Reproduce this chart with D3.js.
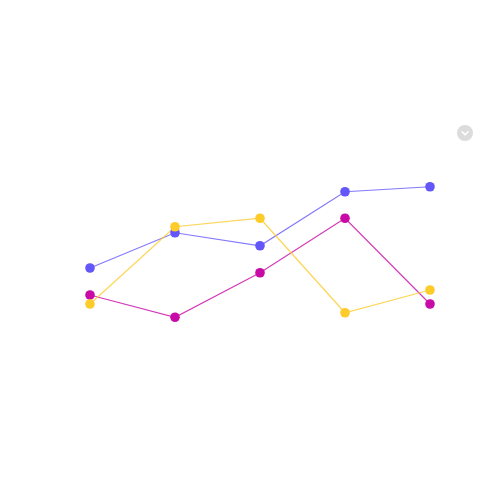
<!DOCTYPE html>
<html>
<head>
<meta charset="utf-8">
<script src="https://cdn.jsdelivr.net/npm/d3@7"></script>
<style>
  html, body { margin: 0; padding: 0; background: #fff; }
  svg { display: block; font-family: "Noto Sans", sans-serif; }
</style>
</head>
<body>
<svg id="chart" width="500" height="500"></svg>
<script>
// categories along x, values on a 0..100 scale
const categories = ["A", "B", "C", "D", "E"];
const blueValues = [48.8, 62.9, 57.7, 79.3, 81.3];
const magentaValues = [38.0, 29.1, 46.9, 68.7, 34.4];
const yellowValues = [34.4, 65.3, 68.7, 30.9, 40.0];

const colors = { blue: "#6457fa", yellow: "#fdcb2a", magenta: "#c80aa6" };
// drawing order: yellow ends up on top
const series = [
  { name: "blue", values: blueValues },
  { name: "magenta", values: magentaValues },
  { name: "yellow", values: yellowValues }
];

const svg = d3.select("#chart");

const x = d3.scalePoint().domain(categories).range([90, 430]);
const y = d3.scaleLinear().domain([0, 100]).range([390, 140]);

const line = d3.line()
    .x((d, i) => x(categories[i]))
    .y(d => y(d));

const g = svg.append("g");

// lines first, dots on top
g.selectAll("path.series")
  .data(series)
  .join("path")
    .attr("class", "series")
    .attr("fill", "none")
    .attr("stroke", d => colors[d.name])
    .attr("stroke-opacity", 0.8)
    .attr("stroke-width", 1.2)
    .attr("d", d => line(d.values));

series.forEach(s => {
  g.append("g")
    .selectAll("circle")
    .data(s.values)
    .join("circle")
      .attr("cx", (d, i) => x(categories[i]))
      .attr("cy", d => y(d))
      .attr("r", 4.8)
      .attr("fill", colors[s.name]);
});

// little menu toggle in the corner
const btn = svg.append("g").attr("transform", "translate(465,133)");
btn.append("circle").attr("r", 8).attr("fill", "#dcdcdc");
btn.append("path")
    .attr("d", "M-3,-1.2L0,1.8L3,-1.2")
    .attr("fill", "none")
    .attr("stroke", "#fff")
    .attr("stroke-width", 1.6)
    .attr("stroke-linecap", "round")
    .attr("stroke-linejoin", "round");
</script>
</body>
</html>
